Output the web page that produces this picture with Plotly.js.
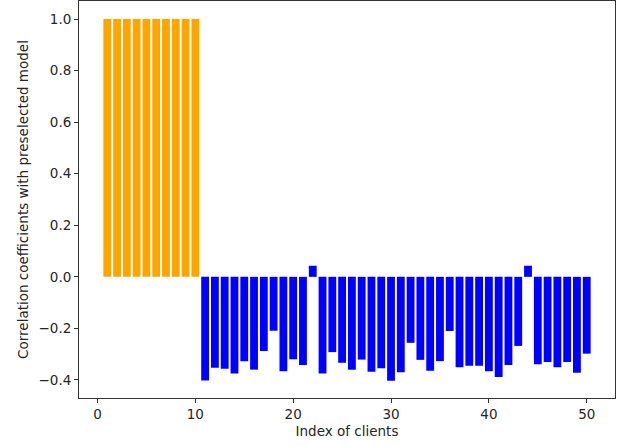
<!DOCTYPE html>
<html>
<head>
<meta charset="utf-8">
<script src="https://cdn.plot.ly/plotly-3.0.1.min.js"></script>
<style>html,body{margin:0;padding:0;background:#fff;}#chart{width:624px;height:446px;}</style>
</head>
<body>
<div id="chart"></div>
<script>
var preselectedClients = [1,2,3,4,5,6,7,8,9,10];
var preselectedValues = [1.0,1.0,1.0,1.0,1.0,1.0,1.0,1.0,1.0,1.0];
var otherClients = [11,12,13,14,15,16,17,18,19,20,21,22,23,24,25,26,27,28,29,30,
                    31,32,33,34,35,36,37,38,39,40,41,42,43,44,45,46,47,48,49,50];
var otherValues = [-0.402,-0.353,-0.357,-0.375,-0.327,-0.360,-0.288,-0.209,-0.366,-0.320,
                   -0.342,0.043,-0.375,-0.292,-0.333,-0.360,-0.321,-0.368,-0.355,-0.403,
                   -0.370,-0.256,-0.322,-0.364,-0.327,-0.210,-0.351,-0.345,-0.345,-0.366,
                   -0.389,-0.342,-0.268,0.043,-0.339,-0.330,-0.351,-0.330,-0.372,-0.298];
var xTicks = [0,10,20,30,40,50];
var yTicks = [-0.4,-0.2,0.0,0.2,0.4,0.6,0.8,1.0];
var yTickText = ['\u22120.4','\u22120.2','0.0','0.2','0.4','0.6','0.8','1.0'];

var font = {family: 'DejaVu Sans, sans-serif', size: 13.5, color: '#262626'};
var traces = [
  {type: 'bar', x: preselectedClients, y: preselectedValues, width: 0.8,
   marker: {color: '#FFA500', line: {width: 0}}, showlegend: false, hoverinfo: 'x+y'},
  {type: 'bar', x: otherClients, y: otherValues, width: 0.8,
   marker: {color: '#0000FF', line: {width: 0}}, showlegend: false, hoverinfo: 'x+y'}
];
var layout = {
  width: 624, height: 446,
  margin: {l: 79, r: 9, t: 1, b: 48, pad: 0},
  paper_bgcolor: '#fff', plot_bgcolor: '#fff',
  barmode: 'overlay',
  font: font,
  xaxis: {
    range: [-1.89, 52.89], tickvals: xTicks, ticktext: xTicks.map(String),
    ticks: 'outside', ticklen: 4, tickwidth: 1, tickcolor: '#333',
    showline: true, linecolor: '#333', linewidth: 1, mirror: true,
    showgrid: false, zeroline: false, tickfont: font,
    title: {text: 'Index of clients', font: font, standoff: 5}
  },
  yaxis: {
    range: [-0.47, 1.07], tickvals: yTicks, ticktext: yTickText,
    ticks: 'outside', ticklen: 4, tickwidth: 1, tickcolor: '#333',
    showline: true, linecolor: '#333', linewidth: 1, mirror: true,
    showgrid: false, zeroline: false, tickfont: font,
    title: {text: 'Correlation coefficients with preselected model', font: font, standoff: 6}
  }
};
Plotly.newPlot('chart', traces, layout, {displayModeBar: false, staticPlot: true});
</script>
</body>
</html>
